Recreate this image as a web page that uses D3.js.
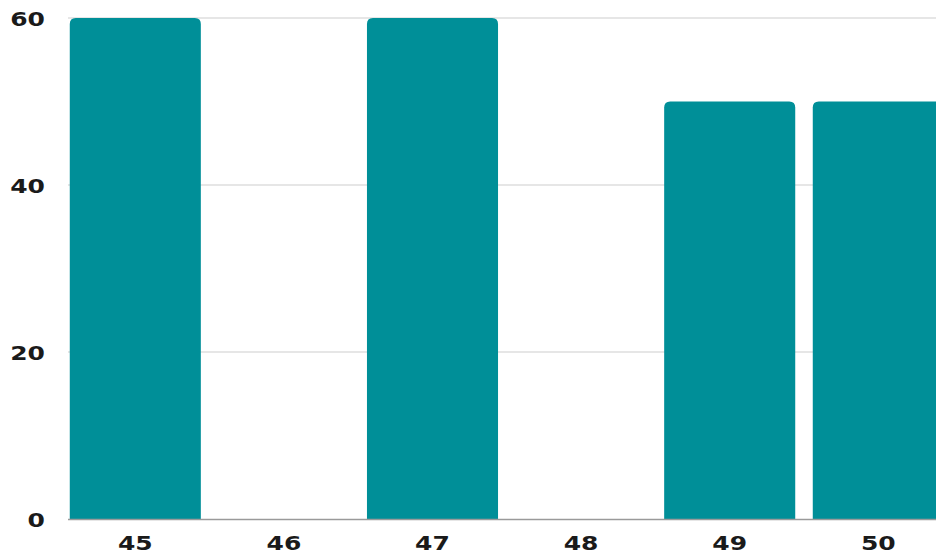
<!DOCTYPE html>
<html>
<head>
<meta charset="utf-8">
<script src="https://cdn.jsdelivr.net/npm/d3@7"></script>
<style>
  body { margin: 0; background: #fff; }
  text { font-family: "DejaVu Sans", sans-serif; font-weight: bold; fill: #1a1a1a; }
</style>
</head>
<body>
<div id="chart"></div>
<script>
var categories = ["45", "46", "47", "48", "49", "50"];
var values = [60, 0, 60, 0, 50, 50];
var yTicks = [0, 20, 40, 60];

function init() {
    var w = 936;
    var h = 556;
    var left = 61;
    var top = 18;
    var base = 519;
    var step = 148.6;

    var svg = d3.select("#chart")
                .append("svg")
                .attr("width", w)
                .attr("height", h);

    var x = d3.scaleBand()
              .domain(categories)
              .range([left, left + step * categories.length])
              .paddingInner(0.118)
              .paddingOuter(0.059);

    var y = d3.scaleLinear()
              .domain([0, 60])
              .range([base, top]);

    // gridlines
    svg.selectAll("line.grid")
       .data(yTicks.filter(function(d) { return d > 0; }))
       .enter()
       .append("line")
       .attr("class", "grid")
       .attr("x1", 68)
       .attr("x2", w)
       .attr("y1", function(d) { return y(d); })
       .attr("y2", function(d) { return y(d); })
       .attr("stroke", "#dedede")
       .attr("stroke-width", 1.5);

    // bars, rounded top corners
    var r = 6;
    svg.selectAll("path.bar")
       .data(categories.map(function(c, i) { return {cat: c, val: values[i]}; })
                       .filter(function(d) { return d.val > 0; }))
       .enter()
       .append("path")
       .attr("class", "bar")
       .attr("fill", "#008f98")
       .attr("d", function(d) {
           var x0 = x(d.cat), x1 = x0 + x.bandwidth(), y0 = y(d.val), y1 = y(0);
           return "M" + x0 + "," + y1 +
                  "V" + (y0 + r) +
                  "Q" + x0 + "," + y0 + " " + (x0 + r) + "," + y0 +
                  "H" + (x1 - r) +
                  "Q" + x1 + "," + y0 + " " + x1 + "," + (y0 + r) +
                  "V" + y1 + "Z";
       });

    // baseline
    svg.append("line")
       .attr("x1", 68)
       .attr("x2", w)
       .attr("y1", base + 0.5)
       .attr("y2", base + 0.5)
       .attr("stroke", "#9a9a9a")
       .attr("stroke-width", 1.5);

    // y labels
    svg.selectAll("text.ylab")
       .data(yTicks)
       .enter()
       .append("text")
       .attr("class", "ylab")
       .attr("text-anchor", "end")
       .attr("font-size", 20)
       .attr("transform", function(d) {
           return "translate(45," + (y(d) + 8) + ") scale(1.25,1)";
       })
       .text(function(d) { return d; });

    // x labels
    svg.selectAll("text.xlab")
       .data(categories)
       .enter()
       .append("text")
       .attr("class", "xlab")
       .attr("text-anchor", "middle")
       .attr("font-size", 20)
       .attr("transform", function(d) {
           return "translate(" + (x(d) + x.bandwidth() / 2) + ",550) scale(1.25,1)";
       })
       .text(function(d) { return d; });
}
window.onload = init;
</script>
</body>
</html>
